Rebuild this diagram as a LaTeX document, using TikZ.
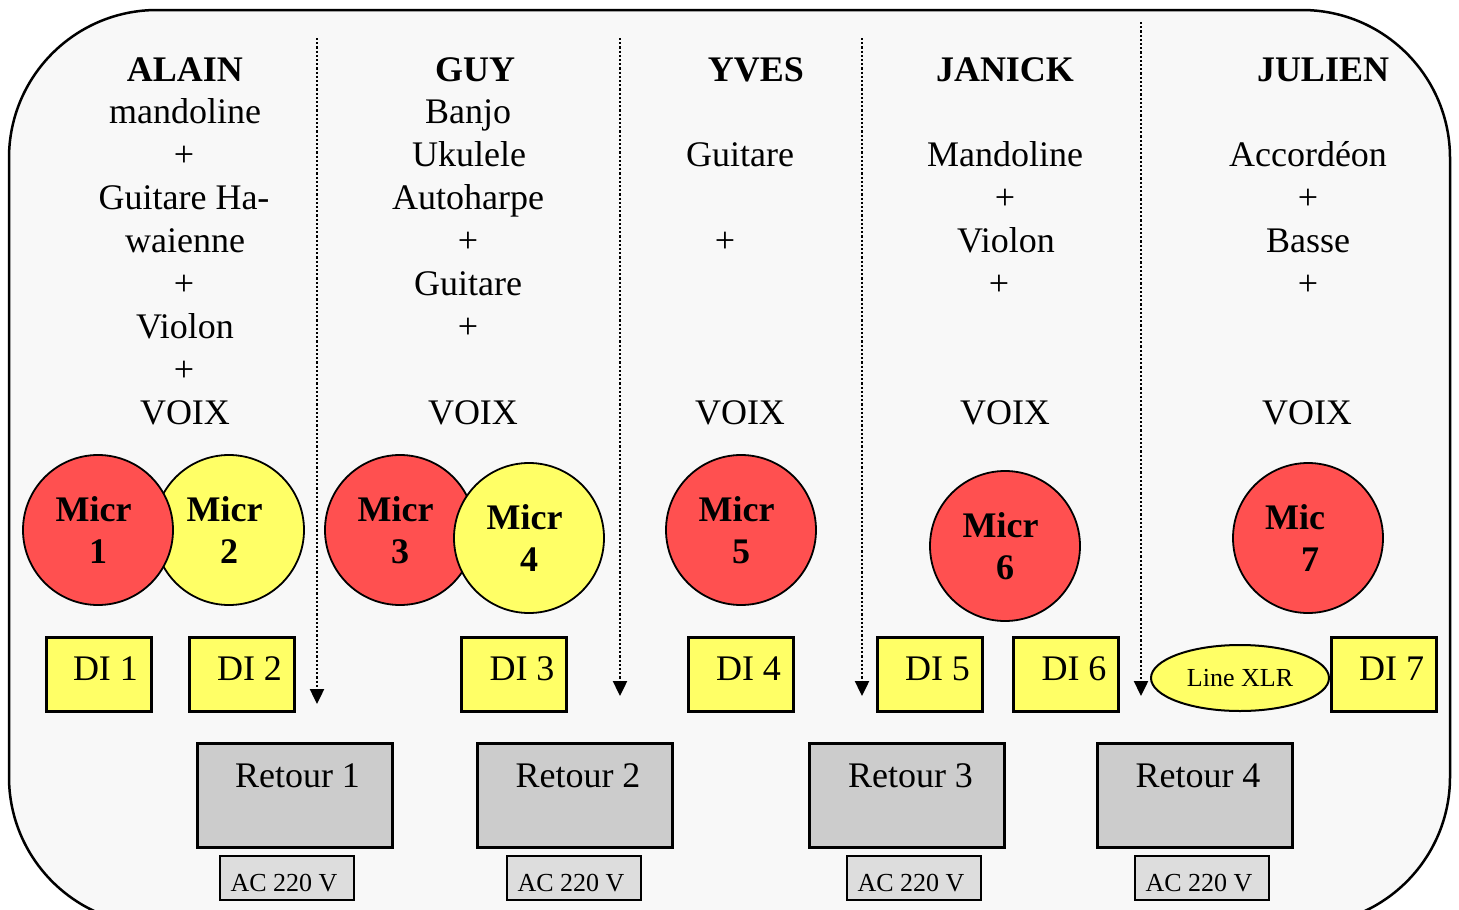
\documentclass[tikz,border=0pt]{standalone}
\usepackage{fontspec}
\setmainfont{Liberation Serif}
\usetikzlibrary{arrows.meta}
\usetikzlibrary{shapes.geometric}
\definecolor{bgfill}{HTML}{F8F8F8}
\definecolor{micred}{HTML}{FF5050}
\definecolor{micyel}{HTML}{FFFF66}
\definecolor{retgray}{HTML}{CCCCCC}
\definecolor{acgray}{HTML}{DDDDDD}
\tikzset{
  txt/.style={anchor=base, inner sep=0pt, font=\fontsize{36}{43}\selectfont},
  who/.style={anchor=base, inner sep=0pt, font=\fontsize{36}{43}\selectfont\bfseries},
  micbase/.style={circle, draw=black, line width=1.8pt, minimum size=150pt, inner sep=0pt,
    align=center, font=\fontsize{36}{42}\selectfont\bfseries},
  micr/.style={micbase, fill=micred},
  micy/.style={micbase, fill=micyel},
  dibox/.style={rectangle, draw=black, line width=3pt, fill=micyel, minimum width=105pt,
    minimum height=74pt, inner sep=0pt, text height=30pt, text depth=18pt,
    font=\fontsize{36}{43}\selectfont},
  retbox/.style={rectangle, draw=black, line width=3pt, fill=retgray, minimum width=195pt,
    minimum height=104pt, inner sep=0pt, text height=30pt, text depth=46pt,
    font=\fontsize{36}{43}\selectfont},
  acbox/.style={rectangle, draw=black, line width=2.5pt, fill=acgray, minimum width=134pt,
    minimum height=44pt, inner sep=0pt, text height=34pt, text depth=8pt,
    font=\fontsize{26}{30}\selectfont},
  xlr/.style={ellipse, draw=black, line width=2pt, fill=micyel, minimum width=178pt,
    minimum height=66pt, inner sep=0pt, font=\fontsize{26}{30}\selectfont},
  sepline/.style={line width=2.4pt, dash pattern=on 2.2pt off 2pt,
    -{Triangle[width=14pt,length=15pt]}},
}
\begin{document}
\begin{tikzpicture}[x=1pt,y=-1pt]
\useasboundingbox (0,0) rectangle (1459,910);
\clip (0,0) rectangle (1459,910);
% outer frame
\draw[line width=2.5pt, fill=bgfill, rounded corners=148pt] (9,10) rectangle (1450,925);

% separators
\coordinate (s1t) at (317,38);  \coordinate (s1b) at (317,704);
\coordinate (s2t) at (620,38);  \coordinate (s2b) at (620,696);
\coordinate (s3t) at (862,38);  \coordinate (s3b) at (862,696);
\coordinate (s4t) at (1141,22); \coordinate (s4b) at (1141,696);
\draw[sepline] (s1t) -- (s1b);
\draw[sepline] (s2t) -- (s2b);
\draw[sepline] (s3t) -- (s3b);
\draw[sepline] (s4t) -- (s4b);

% ALAIN
\node[who] (alain) at (185,81) {ALAIN};
\node[txt] (a1) at (185,123) {mandoline};
\node[txt] (a2) at (184,166) {+};
\node[txt] (a3) at (184,209) {Guitare Ha-};
\node[txt] (a4) at (185,252) {waienne};
\node[txt] (a5) at (184,295) {+};
\node[txt] (a6) at (185,338) {Violon};
\node[txt] (a7) at (184,381) {+};
\node[txt] (a8) at (185,424) {VOIX};
% GUY
\node[who] (guy) at (475,81) {GUY};
\node[txt] (g1) at (468,123) {Banjo};
\node[txt] (g2) at (469,166) {Ukulele};
\node[txt] (g3) at (468,209) {Autoharpe};
\node[txt] (g4) at (468,252) {+};
\node[txt] (g5) at (468,295) {Guitare};
\node[txt] (g6) at (468,338) {+};
\node[txt] (g7) at (473,424) {VOIX};
% YVES
\node[who] (yves) at (756,81) {YVES};
\node[txt] (y1) at (740,166) {Guitare};
\node[txt] (y2) at (725,252) {+};
\node[txt] (y3) at (740,424) {VOIX};
% JANICK
\node[who] (janick) at (1005,81) {JANICK};
\node[txt] (j1) at (1005,166) {Mandoline};
\node[txt] (j2) at (1005,209) {+};
\node[txt] (j3) at (1006,252) {Violon};
\node[txt] (j4) at (999,295) {+};
\node[txt] (j5) at (1005,424) {VOIX};
% JULIEN
\node[who] (julien) at (1323,81) {JULIEN};
\node[txt] (u1) at (1308,166) {Accordéon};
\node[txt] (u2) at (1308,209) {+};
\node[txt] (u3) at (1308,252) {Basse};
\node[txt] (u4) at (1308,295) {+};
\node[txt] (u5) at (1307,424) {VOIX};

% microphones
\node[micy] (m2) at (229,530) {Micr\kern9pt\\2};
\node[micr] (m1) at (98,530) {Micr\kern9pt\\1};
\node[micr] (m3) at (400,530) {Micr\kern9pt\\3};
\node[micy] (m4) at (529,538) {Micr\kern9pt\\4};
\node[micr] (m5) at (741,530) {Micr\kern9pt\\5};
\node[micr] (m6) at (1005,546) {Micr\kern9pt\\6};
\node[micr] (m7) at (1308,538) {Mic\kern26pt\\\kern4pt 7};

% DI boxes
\node[dibox] (di1) at (98.5,674) {\hspace*{14pt}DI 1};
\node[dibox] (di2) at (241.5,674) {\hspace*{16pt}DI 2};
\node[dibox] (di3) at (514,674) {\hspace*{16pt}DI 3};
\node[dibox] (di4) at (740.5,674) {\hspace*{16pt}DI 4};
\node[dibox] (di5) at (929.5,674) {\hspace*{16pt}DI 5};
\node[dibox] (di6) at (1066,674) {\hspace*{16pt}DI 6};
\node[xlr] (xlr) at (1240,678) {Line XLR};
\node[dibox] (di7) at (1383.5,674) {\hspace*{16pt}DI 7};

% Retours
\node[retbox] (r1) at (294.5,795) {\hspace*{6pt}Retour 1};
\node[retbox] (r2) at (574.5,795) {\hspace*{7pt}Retour 2};
\node[retbox] (r3) at (907,795) {\hspace*{7pt}Retour 3};
\node[retbox] (r4) at (1194.5,795) {\hspace*{7pt}Retour 4};

% AC boxes
\node[acbox] (ac1) at (287,878) {AC 220 V\hspace*{6pt}};
\node[acbox] (ac2) at (574,878) {AC 220 V\hspace*{6pt}};
\node[acbox] (ac3) at (914,878) {AC 220 V\hspace*{6pt}};
\node[acbox] (ac4) at (1202,878) {AC 220 V\hspace*{6pt}};
\end{tikzpicture}
\end{document}
